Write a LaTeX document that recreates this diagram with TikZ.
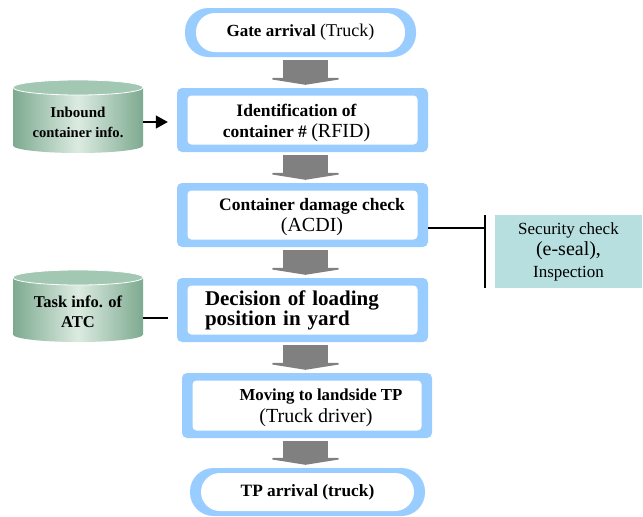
\documentclass[tikz,border=0pt]{standalone}
\usepackage{fontspec}
\setmainfont{Liberation Serif}
\usetikzlibrary{arrows.meta}
\definecolor{ringblue}{HTML}{99CCFF}
\definecolor{arrowgray}{HTML}{808080}
\definecolor{cyldark}{HTML}{7DAA90}
\definecolor{cyllight}{HTML}{DCEBE1}
\definecolor{cyltop}{HTML}{A2C7B3}
\definecolor{secfill}{HTML}{B7DFE0}
\newcommand\fs[2]{\fontsize{#1}{#2}\selectfont}
\tikzset{
 ring/.style n args={3}{path picture={\fill[white,rounded corners=#3]
   ([xshift=#1,yshift=-#2]path picture bounding box.north west) rectangle
   ([xshift=-#1,yshift=#2]path picture bounding box.south east);}},
 flowbox/.style={fill=ringblue, rounded corners=5pt, inner sep=0pt, ring={10.5pt}{7.5pt}{4pt}},
 stadium/.style={fill=ringblue, rounded corners=23.5pt, inner sep=0pt, ring={11pt}{5pt}{19pt}},
 boxlabel/.style={align=center, inner sep=0pt},
 blockarrow/.style={draw=arrowgray, line width=45pt, -{Triangle[length=7pt,width=88pt]}},
 cyltext/.style={align=center, font=\bfseries, inner sep=0pt},
 cylbody/.style={left color=cyldark, right color=cyldark, middle color=cyllight},
 cylcap/.style={fill=cyltop, draw=white, line width=0.8pt},
 linkline/.style={draw=black, line width=1.5pt},
}
\begin{document}
\begin{tikzpicture}[x=1pt,y=-1pt]
\useasboundingbox (0,0) rectangle (643,517);
\fill[white] (0,0) rectangle (643,517);

% cylinders
\path[cylbody] (13,87.5) -- (13,145.5) arc[start angle=180,end angle=0,x radius=65,y radius=7.5] -- (143,87.5) -- cycle;
\path[cylcap] (78,87.5) ellipse[x radius=65,y radius=7.5];
\path[cylbody] (13,277.5) -- (13,334.5) arc[start angle=180,end angle=0,x radius=65,y radius=7.5] -- (143,277.5) -- cycle;
\path[cylcap] (78,277.5) ellipse[x radius=65,y radius=7.5];

\node[cyltext, minimum width=130pt, font=\bfseries\fs{15}{20}] (c1) at (78,122)
  {Inbound\\{\fs{14.6}{20}container info.}};
\node[cyltext, minimum width=130pt, font=\bfseries\fs{16.5}{20}] (c2) at (78,312) {Task info. of\\ATC};

% flow
\node[stadium, minimum width=231pt, minimum height=49pt, font=\bfseries\fs{17}{20}] (gate) at (300.5,32.5)
  {Gate arrival {\mdseries\fs{18}{20}(Truck)}};
\node[flowbox, minimum width=251pt, minimum height=64pt,
  label={[boxlabel, name=b2t, xshift=-6pt, yshift=-2.5pt, font=\bfseries\fs{17.5}{21}]center:Identification of\\container \# {\mdseries\fs{20}{21}(RFID)}}] (b2) at (302.5,120) {};
\node[flowbox, minimum width=251pt, minimum height=64pt,
  label={[boxlabel, name=b3t, xshift=9.5pt, yshift=-2.5pt, font=\bfseries\fs{17.5}{21}]center:Container damage check\\{\mdseries\fs{20}{21}(ACDI)}}] (b3) at (302.5,215) {};
\node[flowbox, minimum width=251pt, minimum height=64pt, text width=195pt, align=left,
  font=\bfseries\fs{21}{20}] (b4) at (302.5,310) {Decision of loading\\position in yard};
\node[flowbox, minimum width=250pt, minimum height=65pt,
  label={[boxlabel, name=b5t, xshift=11.5pt, yshift=-2.5pt, font=\bfseries\fs{16.8}{22}]center:\hspace*{5pt}Moving to landside TP\\\hspace*{-5pt}{\mdseries\fs{20}{22}(Truck driver)}}] (b5) at (307,405.5) {};
\node[stadium, minimum width=235pt, minimum height=48pt, font=\bfseries\fs{17.3}{20}] (tp) at (307.5,492) {TP arrival (truck)};

\node[fill=secfill, minimum width=147pt, minimum height=73pt, inner sep=0pt, align=center,
  font=\fs{17}{21.5}] (sec) at (568.5,251.5) {Security check\\{\fs{20}{21.5}(e-seal),}\\Inspection};

% block arrows
\coordinate (ax) at (305.5,0);
\draw[blockarrow] ([yshift=-3pt]ax |- gate.south) -- ([yshift=3pt]ax |- b2.north);
\draw[blockarrow] ([yshift=-3pt]ax |- b2.south) -- ([yshift=3pt]ax |- b3.north);
\draw[blockarrow] ([yshift=-3pt]ax |- b3.south) -- ([yshift=3pt]ax |- b4.north);
\draw[blockarrow] ([yshift=-3pt]ax |- b4.south) -- ([yshift=3pt]ax |- b5.north);
\draw[blockarrow] ([yshift=-3pt]ax |- b5.south) -- ([yshift=3pt]ax |- tp.north);

% side links
\draw[linkline, -{Triangle[length=12pt,width=13pt]}] (c1.east) -- ([xshift=-9pt]b2.west |- c1.east);
\draw[linkline] ([yshift=-6pt]c2.east) -- ([xshift=-9pt,yshift=-6pt]b4.west |- c2.east);
\coordinate (bt) at (485,215);
\coordinate (bb) at (485,288);
\draw[linkline] (bt) -- (bb);
\draw[linkline] ([yshift=-13pt]b3.east) -- ([yshift=-13pt]b3.east -| bt);
\end{tikzpicture}
\end{document}
